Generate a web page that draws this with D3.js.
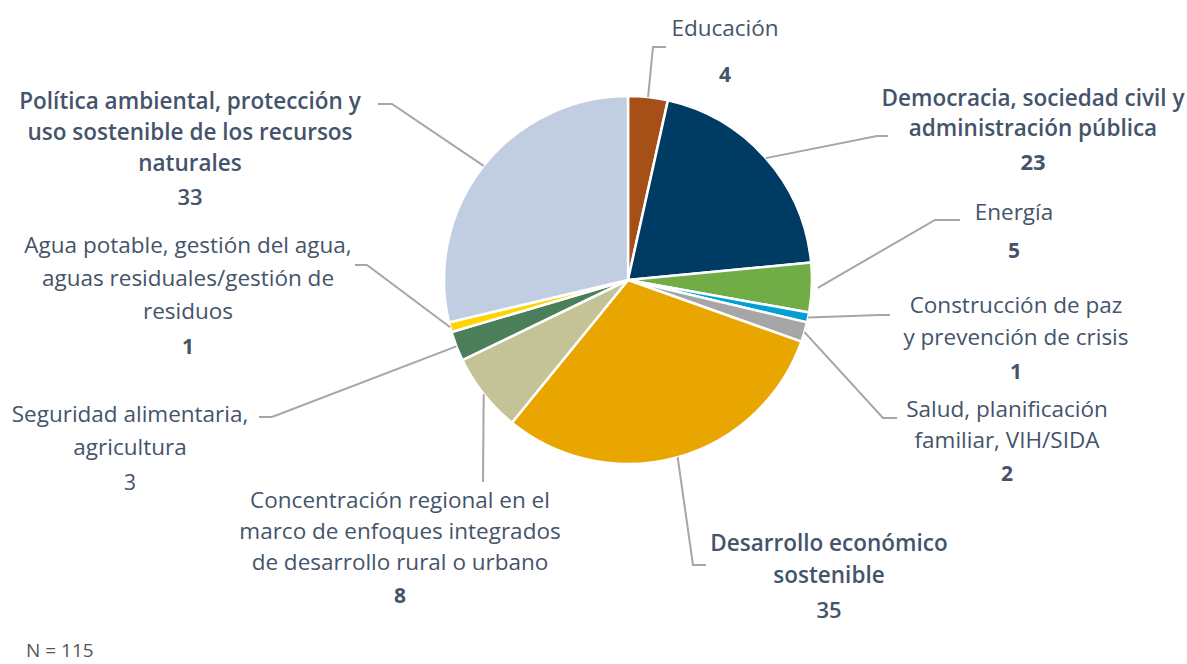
<!DOCTYPE html>
<html>
<head>
<meta charset="utf-8">
<script src="https://cdn.jsdelivr.net/npm/d3@7"></script>
<style>
  body { margin: 0; background: #fff; }
  svg text { font-family: "Open Sans", "Noto Sans", sans-serif; fill: #44546a; }
</style>
</head>
<body>
<div id="chart"></div>
<script>
// chart data
var categories = [
  "Educación",
  "Democracia, sociedad civil y administración pública",
  "Energía",
  "Construcción de paz y prevención de crisis",
  "Salud, planificación familiar, VIH/SIDA",
  "Desarrollo económico sostenible",
  "Concentración regional en el marco de enfoques integrados de desarrollo rural o urbano",
  "Seguridad alimentaria, agricultura",
  "Agua potable, gestión del agua, aguas residuales/gestión de residuos",
  "Política ambiental, protección y uso sostenible de los recursos naturales"
];
var values = [4, 23, 5, 1, 2, 35, 8, 3, 1, 33];
var labelLines = [
  ["Educación"],
  ["Democracia, sociedad civil y", "administración pública"],
  ["Energía"],
  ["Construcción de paz", "y prevención de crisis"],
  ["Salud, planificación", "familiar, VIH/SIDA"],
  ["Desarrollo económico", "sostenible"],
  ["Concentración regional en el", "marco de enfoques integrados", "de desarrollo rural o urbano"],
  ["Seguridad alimentaria,", "agricultura"],
  ["Agua potable, gestión del agua,", "aguas residuales/gestión de", "residuos"],
  ["Política ambiental, protección y", "uso sostenible de los recursos", "naturales"]
];
var colors = ["#a64f17", "#003b63", "#70ad47", "#00a0d6", "#a6a6a6",
              "#e9a500", "#c4c397", "#4b7f5a", "#ffd500", "#c1cde0"];
var totalN = 115;

// layout: label centre x, first line centre y, line step, big font, number weight, leader elbow/end
var layout = [
  {x: 725, y: 28, step: 44, big: false, numW: 700, elbow: [653, 47], end: [666, 47]},
  {x: 1033, y: 98, step: 30.5, big: true, numW: 700, elbow: [877, 136], end: [888, 136]},
  {x: 1014, y: 212, step: 36, big: false, numW: 700, elbow: [935, 220], end: [960, 220]},
  {x: 1016, y: 305, step: 32, big: false, numW: 700, elbow: [880, 315], end: [890, 315]},
  {x: 1007, y: 409, step: 31, big: false, numW: 700, elbow: [883, 418], end: [897, 418]},
  {x: 829, y: 543, step: 32, big: true, numW: 600, elbow: [693, 565], end: [706, 565]},
  {x: 400, y: 500, step: 31, big: false, numW: 700, elbow: [483, 482], end: [483, 482]},
  {x: 130, y: 414, step: 33, big: false, numW: 400, elbow: [272, 417], end: [259, 417]},
  {x: 188, y: 245, step: 33, big: false, numW: 700, elbow: [367, 265], end: [355, 265]},
  {x: 190, y: 101, step: 31, big: true, numW: 600, elbow: [392, 104], end: [378, 104]}
];

var svgWidth = 1187, svgHeight = 664;
var cx = 628, cy = 280, radius = 184;

var svg = d3.select("#chart")
  .append("svg")
  .attr("width", svgWidth)
  .attr("height", svgHeight);

var pie = d3.pie().sort(null).value(d => d);
var arcs = pie(values);
var arc = d3.arc().innerRadius(0).outerRadius(radius);

var g = svg.append("g").attr("transform", `translate(${cx}, ${cy})`);

g.selectAll("path")
  .data(arcs)
  .enter()
  .append("path")
  .attr("d", arc)
  .attr("fill", (d, i) => colors[i])
  .attr("stroke", "#fff")
  .attr("stroke-width", 2.5)
  .attr("stroke-linejoin", "round");

// leader lines
arcs.forEach(function(d, i) {
  var a = (d.startAngle + d.endAngle) / 2;
  var r = i == 2 ? radius + 6 : radius;
  var sx = cx + r * Math.sin(a), sy = cy - r * Math.cos(a);
  var L = layout[i];
  svg.append("polyline")
    .attr("points", [[sx, sy], L.elbow, L.end].map(p => p.join(",")).join(" "))
    .attr("fill", "none")
    .attr("stroke", "#a6a6a6")
    .attr("stroke-width", 2);
});

// labels
labelLines.forEach(function(lines, i) {
  var L = layout[i];
  var t = svg.append("text")
    .attr("text-anchor", "middle")
    .attr("font-size", L.big ? "22.5px" : "22.5px")
    .attr("font-weight", L.big ? 600 : 400);
  lines.forEach(function(line, j) {
    t.append("tspan")
      .attr("x", L.x)
      .attr("y", L.y + j * L.step)
      .attr("dy", "0.35em")
      .text(line);
  });
  svg.append("text")
    .attr("text-anchor", "middle")
    .attr("x", L.x)
    .attr("y", L.y + lines.length * L.step + 3)
    .attr("dy", "0.35em")
    .attr("font-size", L.big ? "22px" : "21px")
    .attr("font-weight", L.numW)
    .text(values[i]);
});

svg.append("text")
  .attr("x", 26)
  .attr("y", 650)
  .attr("dy", "0.35em")
  .attr("font-size", "19px")
  .style("fill", "#555")
  .text("N = " + totalN);
</script>
</body>
</html>
